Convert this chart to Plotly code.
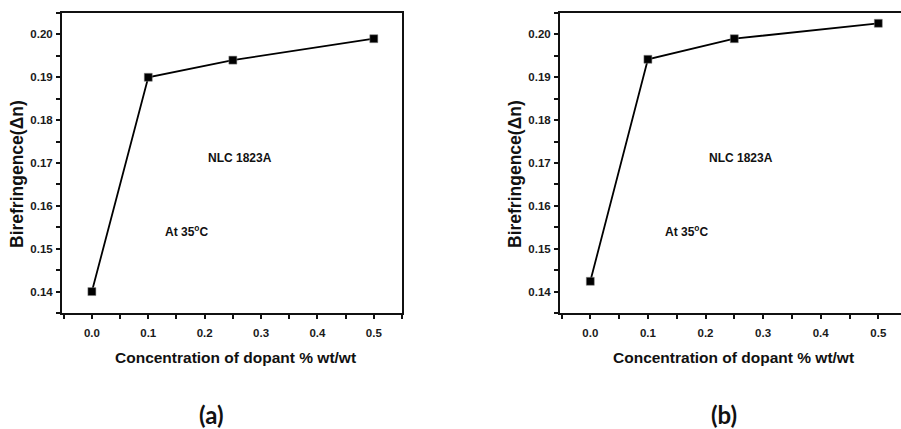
import plotly.graph_objects as go

# Data
conc = [0.0, 0.1, 0.25, 0.5]
biref_a = [0.140, 0.190, 0.194, 0.199]
biref_b = [0.1424, 0.1942, 0.1990, 0.2026]

x_tickvals = [0.0, 0.1, 0.2, 0.3, 0.4, 0.5]
x_ticktext = ["0.0", "0.1", "0.2", "0.3", "0.4", "0.5"]
y_tickvals = [0.14, 0.15, 0.16, 0.17, 0.18, 0.19, 0.20]
y_ticktext = ["0.14", "0.15", "0.16", "0.17", "0.18", "0.19", "0.20"]

x_title = "Concentration of dopant % wt/wt"
y_title = "Birefringence(\u0394n)"
sample_label = "NLC 1823A"
temp_label = "At 35<sup>o</sup>C"
captions = ["(a)", "(b)"]

W, H = 901, 429
FONT = "Liberation Sans, Arial, sans-serif"

fig = go.Figure()

marker = dict(symbol="square", size=8, color="black", line=dict(color="#888", width=0.5))
fig.add_trace(go.Scatter(x=conc, y=biref_a, mode="lines+markers", xaxis="x", yaxis="y",
                         line=dict(color="black", width=1.8), marker=marker, showlegend=False))
fig.add_trace(go.Scatter(x=conc, y=biref_b, mode="lines+markers", xaxis="x2", yaxis="y2",
                         line=dict(color="black", width=1.8), marker=marker, showlegend=False))

def px_x(p):
    return p / W

def px_y(p):
    return 1 - p / H

tickfont = dict(family=FONT, size=11.5, color="#1a1a1a", weight="bold")

common_x = dict(
    tickvals=x_tickvals, ticktext=x_ticktext, ticks="outside", ticklen=4, tickwidth=1.5,
    tickcolor="#111", showline=True, linecolor="#111", linewidth=2, showgrid=False,
    zeroline=False, tickfont=tickfont, ticklabelstandoff=4,
    minor=dict(ticks="outside", ticklen=4, tickwidth=1.5, tickcolor="#111", dtick=0.05, tick0=0, showgrid=False),
)
common_y = dict(
    tickvals=y_tickvals, ticktext=y_ticktext, ticks="outside", ticklen=4, tickwidth=1.5,
    tickcolor="#111", showline=True, linecolor="#111", linewidth=2, showgrid=False,
    zeroline=False, tickfont=tickfont, range=[0.135, 0.205], ticklabelstandoff=1,
    minor=dict(ticks="outside", ticklen=4, tickwidth=1.5, tickcolor="#111", dtick=0.005, tick0=0, showgrid=False),
)

ydom = [px_y(313), px_y(13)]

fig.update_layout(
    width=W, height=H,
    margin=dict(l=0, r=0, t=0, b=0),
    paper_bgcolor="white", plot_bgcolor="white",
    xaxis=dict(domain=[px_x(62), px_x(402)], range=[-0.053, 0.55], anchor="y", mirror=True, **common_x),
    yaxis=dict(domain=ydom, anchor="x", mirror=True, **common_y),
    xaxis2=dict(domain=[px_x(560), 1.0], range=[-0.0526, 0.5394], anchor="y2", mirror=True, **common_x),
    yaxis2=dict(domain=ydom, anchor="x2", mirror=False, **common_y),
)

def ann(x, y, text, font, **kw):
    d = dict(x=px_x(x), y=px_y(y), xref="paper", yref="paper", text=text, showarrow=False,
             font=font, xanchor="center", yanchor="middle")
    d.update(kw)
    return d

annots = []
for cx in (0, 498):
    annots.append(ann(235 + cx, 357, x_title, dict(family=FONT, size=15.5, color="#111", weight="bold")))
    annots.append(ann(17 + cx, 174, y_title, dict(family=FONT, size=17.5, color="#111", weight="bold"),
                      textangle=-90))
label_font = dict(family=FONT, size=12, color="#111", weight="bold")
annots.append(ann(239.5, 158, sample_label, label_font))
annots.append(ann(186, 231, temp_label, label_font))
annots.append(ann(741, 158, sample_label, label_font))
annots.append(ann(686, 231, temp_label, label_font))
cap_font = dict(family="Lato, sans-serif", size=24, color="#111", weight="bold")
annots.append(ann(211, 414, captions[0], cap_font))
annots.append(ann(724, 414, captions[1], cap_font))
fig.update_layout(annotations=annots)

fig.write_html("out.html")
